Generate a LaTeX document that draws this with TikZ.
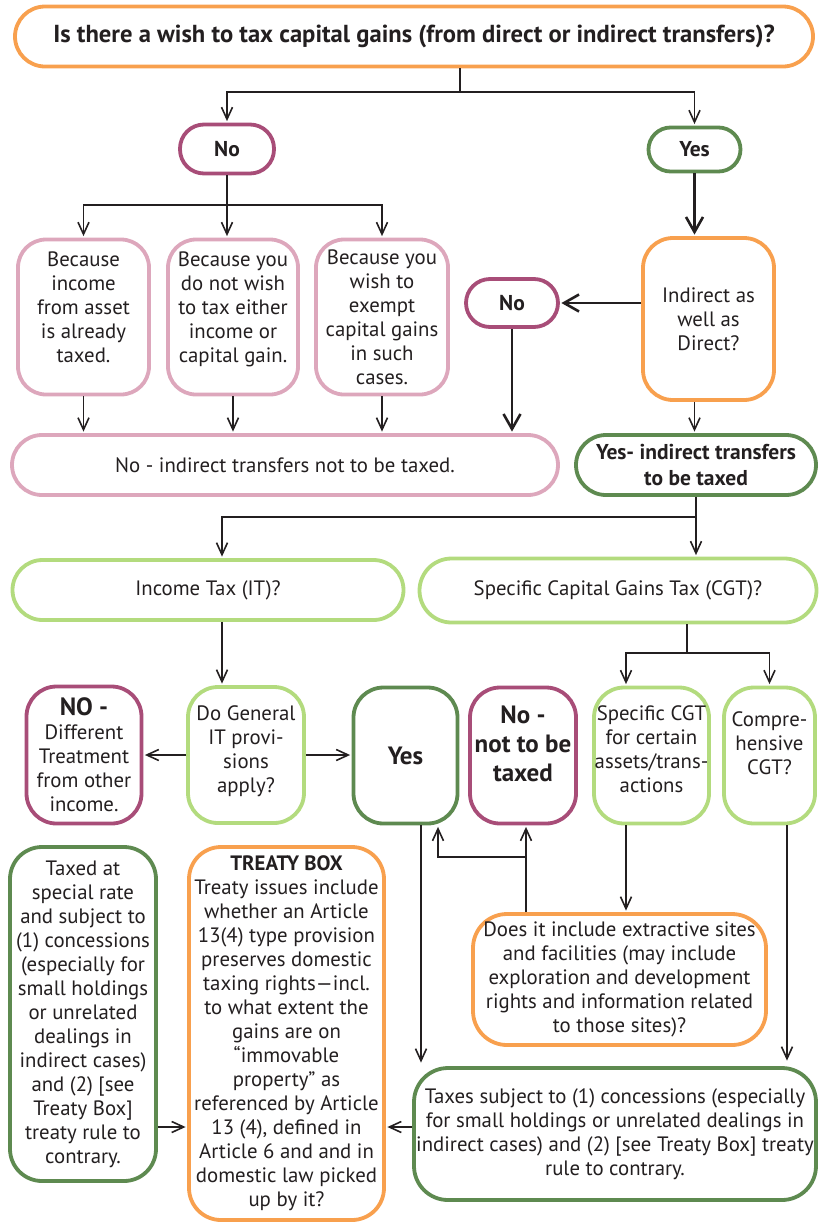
\documentclass[tikz,border=0pt]{standalone}
\usepackage{fontspec}
\setmainfont{PT Sans}
\usetikzlibrary{arrows.meta}
\definecolor{cOr}{HTML}{F8A04E}
\definecolor{cPu}{HTML}{A84D78}
\definecolor{cDg}{HTML}{5E8A50}
\definecolor{cLg}{HTML}{B3DB7E}
\definecolor{cPk}{HTML}{DDA7BC}
\definecolor{cTx}{HTML}{231F20}
\newcommand\bodyf{\fontsize{20.8}{24}\selectfont}
\newcommand\bodybf{\bfseries\fontsize{21.5}{26}\selectfont}
\newcommand\bigbf{\bfseries\fontsize{25}{29}\selectfont}
\tikzset{
  bx/.style={draw, line width=3.8pt, fill=white, align=center, inner sep=0pt,
    text=cTx, font=\bodyf, rounded corners=30pt},
  ln/.style={draw=cTx, line width=1.6pt},
  arr/.style={ln, -{Straight Barb[length=12pt,width=11pt]}, shorten >=1.5pt},
  tarr/.style={draw=cTx, line width=2.6pt, -{Straight Barb[length=15pt,width=17pt]}, shorten >=1.5pt},
}
\begin{document}
\begin{tikzpicture}[x=1pt,y=-1pt]
\useasboundingbox (0,0) rectangle (822,1227);
% nodes
\node[bx, draw=cOr, minimum width=798pt, minimum height=60pt, rounded corners=30pt,
  font=\bfseries\fontsize{24.6}{28}\selectfont] (title) at (414,36.5)
  {Is there a wish to tax capital gains (from direct or indirect transfers)?};
\node[bx, draw=cPu, minimum width=94pt, minimum height=49pt, rounded corners=24pt, font=\bodybf] (no1) at (227,149) {No};
\node[bx, draw=cDg, minimum width=92pt, minimum height=44pt, rounded corners=22pt, font=\bodybf] (yes1) at (694.5,149.5) {Yes};
\node[bx, draw=cPk, minimum width=131pt, minimum height=155pt, rounded corners=28pt] (pink1) at (83.5,317)
  {Because\\income\\from asset\\is already\\taxed.\\[-4pt]~};
\node[bx, draw=cPk, minimum width=130pt, minimum height=155pt, rounded corners=28pt] (pink2) at (233,317)
  {Because you\\do not wish\\to tax either\\income or\\capital gain.\\[-4pt]~};
\node[bx, draw=cPk, minimum width=132pt, minimum height=155pt, rounded corners=28pt] (pink3) at (382,317)
  {Because you\\wish to\\exempt\\capital gains\\in such\\cases.};
\node[bx, draw=cOr, minimum width=131pt, minimum height=162pt, rounded corners=30pt] (ind) at (708.5,319)
  {Indirect as\\well as\\Direct?};
\node[bx, draw=cPu, minimum width=92pt, minimum height=48pt, rounded corners=24pt, font=\bodybf] (no2) at (512,303) {No};
\node[bx, draw=cPk, minimum width=546pt, minimum height=60pt, rounded corners=30pt] (wide) at (285,465)
  {No - indirect transfers not to be taxed.};
\node[bx, draw=cDg, minimum width=240pt, minimum height=60pt, rounded corners=30pt, font=\bodybf] (yes2) at (696,465)
  {Yes- indirect transfers\\to be taxed};
\node[bx, draw=cLg, minimum width=391pt, minimum height=60pt, rounded corners=30pt] (it) at (208,590)
  {Income Tax (IT)?};
\node[bx, draw=cLg, minimum width=397pt, minimum height=64pt, rounded corners=32pt] (cgt) at (618,590.5)
  {Specific Capital Gains Tax (CGT)?};
\node[bx, draw=cPu, minimum width=115pt, minimum height=137pt, rounded corners=30pt] (nodiff) at (84,755)
  {{\bigbf NO -}\\Different\\Treatment\\from other\\income.};
\node[bx, draw=cLg, minimum width=116pt, minimum height=136pt, rounded corners=30pt] (dogen) at (246,755)
  {Do General\\IT provi-\\sions\\apply?\\[-12pt]~};
\node[bx, draw=cDg, minimum width=104pt, minimum height=136pt, rounded corners=30pt, font=\bigbf] (yes3) at (405.5,755.5)
  {Yes};
\node[bx, draw=cPu, minimum width=106pt, minimum height=136pt, rounded corners=30pt, font=\bigbf] (no3) at (523,755.5)
  {No -\\not to be\\taxed\\[-6pt]~};
\node[bx, draw=cLg, minimum width=115pt, minimum height=136pt, rounded corners=30pt] (spec) at (651.5,755.5)
  {Specific CGT\\for certain\\assets/trans-\\actions\\[-12pt]~};
\node[bx, draw=cLg, minimum width=91pt, minimum height=136pt, rounded corners=30pt] (compre) at (769.5,755.5)
  {Compre-\\hensive\\CGT?\\~};
\node[bx, draw=cDg, minimum width=146pt, minimum height=334pt, rounded corners=32pt] (taxed) at (83,1014)
  {Taxed at\\special rate\\and subject to\\(1) concessions\\(especially for\\small holdings\\or unrelated\\dealings in\\indirect cases)\\and (2) [see\\Treaty Box]\\treaty rule to\\contrary.};
\node[bx, draw=cOr, minimum width=195pt, minimum height=373pt, rounded corners=32pt] (treaty) at (286.5,1033.5)
  {\textbf{TREATY BOX}\\Treaty issues include\\whether an Article\\13(4) type provision\\preserves domestic\\taxing rights—incl.\\to what extent the\\gains are on\\“immovable\\property” as\\referenced by Article\\13 (4), defined in\\Article 6 and and in\\domestic law picked\\up by it?};
\node[bx, draw=cOr, minimum width=293pt, minimum height=131pt, rounded corners=34pt] (extr) at (619.5,979.5)
  {Does it include extractive sites\\and facilities (may include\\exploration and development\\rights and information related\\to those sites)?};
\node[bx, draw=cDg, minimum width=402pt, minimum height=132pt, rounded corners=34pt] (taxes) at (615,1134)
  {Taxes subject to (1) concessions (especially\\for small holdings or unrelated dealings in\\indirect cases) and (2) [see Treaty Box] treaty\\rule to contrary.};
% junction coordinates
\coordinate (j1) at (460,92);
\coordinate (b1) at (227,205);
\coordinate (j2) at (696,517);
\coordinate (vit) at (222,517);
\coordinate (j3) at (687,653);
\coordinate (vspec) at (626,653);
\coordinate (vcomp) at (787,653);
\coordinate (vyes) at (421,900);
\coordinate (j4) at (526,857);
\coordinate (vyes2) at (438,857);
\coordinate (ht) at (300,1127);
% connectors
\draw[ln] (title.south -| j1) -- (j1);
\draw[arr] (j1) -| (no1.north);
\draw[arr] (j1) -| (yes1.north);
\draw[ln] (no1.south) -- (b1);
\draw[arr] (b1) -| (pink1.north);
\draw[arr] (b1) -- (b1 |- pink2.north);
\draw[arr] (b1) -| (pink3.north);
\draw[arr] (pink1.south) -- (pink1.south |- wide.north);
\draw[arr] (pink2.south) -- (pink2.south |- wide.north);
\draw[arr] (pink3.south) -- (pink3.south |- wide.north);
\draw[tarr] (yes1.south) -- (yes1.south |- ind.north);
\draw[tarr] (no2.east -| ind.west) -- (no2.east);
\draw[tarr] (no2.south) -- (no2.south |- wide.north);
\draw[arr] (ind.south -| yes1) -- (yes2.north -| yes1);
\draw[ln] (yes2.south) -- (j2);
\draw[arr] (j2) -| (vit |- it.north);
\draw[arr] (j2) -- (j2 |- cgt.north);
\draw[arr] (vit |- it.south) -- (vit |- dogen.north);
\draw[arr] (dogen.west) -- (dogen.west -| nodiff.east);
\draw[arr] (dogen.east) -- (dogen.east -| yes3.west);
\draw[ln] (j3 |- cgt.south) -- (j3);
\draw[arr] (j3) -| (vspec |- spec.north);
\draw[arr] (j3) -| (compre.north);
\draw[arr] (vspec |- spec.south) -- (vspec |- extr.north);
\draw[arr] (vcomp |- compre.south) -- ([yshift=4pt]vcomp |- taxes.north);
\draw[arr] (vyes |- yes3.south) -- ([yshift=2pt]vyes |- taxes.north);
\draw[arr] (j4 |- extr.north) -- (j4 |- no3.south);
\draw[arr] (j4) -| (vyes2 |- yes3.south);
\draw[arr] (ht -| taxes.west) -- (ht -| treaty.east);
\draw[arr] (ht -| taxed.east) -- (ht -| treaty.west);
\end{tikzpicture}
\end{document}
